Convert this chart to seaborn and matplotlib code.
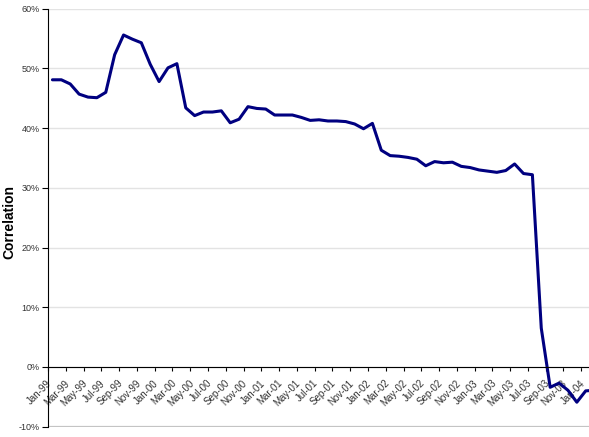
import numpy as np
import pandas as pd
import matplotlib
matplotlib.use('Agg')
import matplotlib.pyplot as plt
import matplotlib.ticker as mticker
from matplotlib.transforms import ScaledTranslation
import seaborn as sns

# monthly categories Jan-99 .. Feb-04
months = pd.date_range('1999-01-01', periods=62, freq='MS').strftime('%b-%y').tolist()

# correlation in percent
correlation = [
    48.1, 48.1, 47.4, 45.7, 45.2, 45.1, 46.0, 52.3, 55.6, 54.9, 54.3, 50.7,   # 1999
    47.8, 50.1, 50.8, 43.4, 42.1, 42.7, 42.7, 42.9, 40.9, 41.5, 43.6, 43.3,   # 2000
    43.2, 42.2, 42.2, 42.2, 41.8, 41.3, 41.4, 41.2, 41.2, 41.1, 40.7, 39.9,   # 2001
    40.8, 36.3, 35.4, 35.3, 35.1, 34.8, 33.7, 34.4, 34.2, 34.3, 33.6, 33.4,   # 2002
    33.0, 32.8, 32.6, 32.9, 34.0, 32.4, 32.2, 6.5, -3.4, -2.7, -3.9, -5.9,    # 2003
    -4.0, -3.9,                                                               # 2004
]

y_ticks = list(range(-10, 61, 10))

sns.set_style('white')
plt.rcParams['font.family'] = ['Liberation Sans', 'DejaVu Sans']

df = pd.DataFrame({'idx': np.arange(len(months)), 'month': months, 'corr': correlation})

fig = plt.figure(figsize=(5.89, 4.37), dpi=100)
ax = fig.add_axes([0.0815, 0.0236, 0.9185, 0.9564])

sns.lineplot(data=df, x='idx', y='corr', ax=ax, color='#000080', lw=2.2)

ax.set_xlim(-0.416, 60.37)
ax.set_ylim(-10, 60)

# y axis
ax.set_yticks(y_ticks)
ax.yaxis.set_major_formatter(mticker.FuncFormatter(lambda v, p: f'{v:.0f}%'))
ax.grid(axis='y', color='#e3e3e3', lw=1)
ax.set_axisbelow(True)
ax.axhline(-10, color='#c4c4c4', lw=1.6, zorder=0.6)
ax.tick_params(axis='y', direction='out', length=4, width=0.8, color='black',
               labelsize=6.5, labelcolor='#333333', pad=2, left=True)
ax.set_ylabel('Correlation', fontsize=10, fontweight='bold', color='black')
ax.yaxis.set_label_coords(-0.058, 0.49)

# x axis crossing at 0, ticks between categories, labels on every other month
for s in ['top', 'right']:
    ax.spines[s].set_visible(False)
ax.spines['bottom'].set_position(('data', 0))
ax.spines['bottom'].set_color('black')
ax.spines['bottom'].set_linewidth(0.8)
ax.spines['left'].set_color('black')
ax.spines['left'].set_linewidth(0.8)

ax.set_xticks(np.arange(-0.5, 60.5, 2))
ax.set_xticks(np.arange(0, len(months), 2), minor=True)
ax.set_xticklabels(months[::2], minor=True)
ax.tick_params(axis='x', which='major', direction='out', length=3, width=0.8,
               color='black', labelbottom=False, bottom=True)
ax.tick_params(axis='x', which='minor', length=0, labelsize=7,
               labelcolor='#333333', pad=8, bottom=True)
ax.set_xlabel('')

# nudge rotated month labels left so their ends sit like Excel's
shift = ScaledTranslation(-6 / 100, 0, fig.dpi_scale_trans)
for lbl in ax.get_xticklabels(minor=True):
    lbl.set_rotation(45)
    lbl.set_ha('right')
    lbl.set_va('top')
    lbl.set_rotation_mode('anchor')
    lbl.set_transform(lbl.get_transform() + shift)

fig.savefig('out.png', dpi=100)
